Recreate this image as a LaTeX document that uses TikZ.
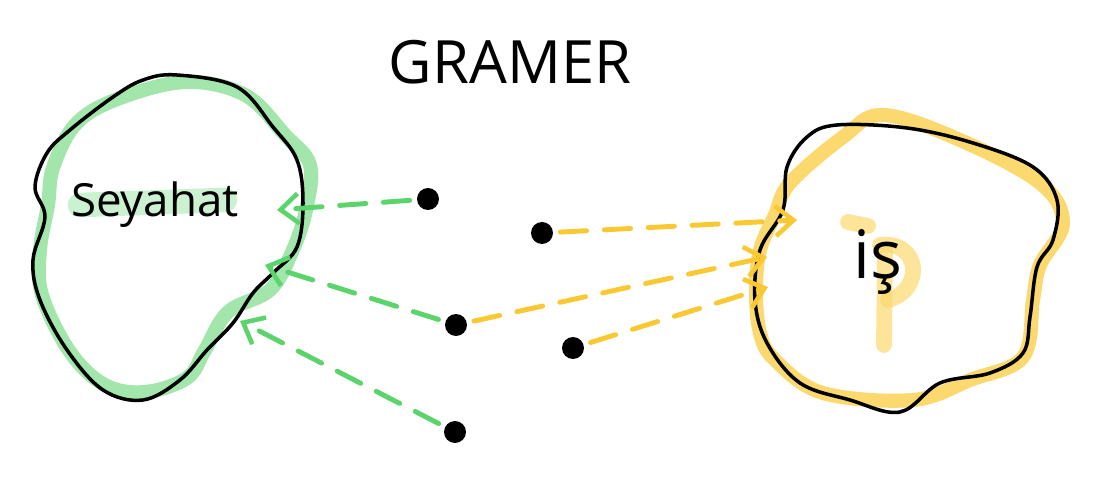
\documentclass[tikz,border=0pt]{standalone}
\usepackage{fontspec}
\setmainfont{Open Sans}
\usetikzlibrary{arrows.meta}
\definecolor{sgreen}{HTML}{5CD46C}
\definecolor{lgreen}{HTML}{A3E6AC}
\definecolor{syellow}{HTML}{F9C832}
\definecolor{lyellow}{HTML}{FBD96E}

\begin{document}
\begin{tikzpicture}[x=0.02cm, y=-0.02cm,
  dot/.style={circle, fill=black, minimum size=0.44cm, inner sep=0pt},
  outline/.style={black, line width=2pt, line join=round},
  smudge/.style={line width=8pt, line cap=round, line join=round},
  arr/.style={-{Straight Barb[length=3.6mm, width=6mm, line width=2.6pt]}, line width=2.8pt, dash pattern=on 15pt off 10pt, line cap=round, shorten <=4pt},
  lbl/.style={font=\fontsize{26}{28}\selectfont}]
\useasboundingbox (0,0) rectangle (1100,479);
% left blob
\draw[smudge, lgreen] plot[smooth cycle, tension=0.6] coordinates {(185,82) (245,95) (285,135) (310,165) (306,210) (292,252) (270,290) (228,312) (205,350) (187,378) (145,392) (105,385) (70,352) (42,295) (40,250) (48,205) (53,168) (75,125) (115,100)};
\draw[outline] plot[smooth cycle, tension=0.6] coordinates {(177,75) (237,87) (273,127) (297,160) (303,203) (297,247) (273,273) (253,293) (233,323) (207,350) (180,380) (143,400) (103,390) (67,350) (40,300) (33,260) (45,217) (35,187) (47,153) (70,130) (113,97) (143,80)};
\draw[smudge, lgreen, line width=14pt, opacity=0.55] (80,205) -- (225,200);
% right blob
\draw[smudge, lyellow] plot[smooth cycle, tension=0.6] coordinates {(883,115) (960,140) (1040,183) (1063,223) (1040,265) (1033,300) (1023,357) (970,380) (913,400) (823,393) (775,360) (760,333) (756,290) (760,250) (775,215) (790,183) (843,137)};
\draw[outline] plot[smooth cycle, tension=0.6] coordinates {(837,125) (907,128) (973,143) (1033,167) (1057,200) (1053,240) (1037,267) (1030,317) (1023,353) (990,373) (940,383) (900,412) (850,400) (800,383) (767,343) (755,300) (760,250) (783,210) (787,167) (807,137)};
\draw[smudge, lyellow, line width=9pt, opacity=0.7] (848,222) -- (868,226);
\draw[smudge, lyellow, line width=9pt, opacity=0.7] (885,250) -- (884,345);
\draw[smudge, lyellow, line width=9pt, opacity=0.7] (880,245) .. controls (920,240) and (925,290) .. (888,300);
% labels
\node[font=\fontsize{34}{36}\selectfont] (title) at (510,62) {GRAMER};
\node[lbl] (sey) at (155,205) {Seyahat};
\node[font=\fontsize{38}{40}\selectfont] (is) at (878,262) {iş};
% points
\node[dot] (d1) at (428,199) {};
\node[dot] (d2) at (542,233) {};
\node[dot] (d3) at (456,325) {};
\node[dot] (d4) at (573,348) {};
\node[dot] (d5) at (455,432) {};
\coordinate (sey1) at (277,210);
\coordinate (sey2) at (265,265);
\coordinate (sey3) at (240,321);
\coordinate (is1) at (797,220);
\coordinate (is2) at (767,257);
\coordinate (is3) at (768,287);
% arrows
\draw[arr, sgreen] (d1) -- (sey1);
\draw[arr, sgreen] (d3) -- (sey2);
\draw[arr, sgreen] (d5) -- (sey3);
\draw[arr, syellow] (d2) -- (is1);
\draw[arr, syellow] (d3) -- (is2);
\draw[arr, syellow] (d4) -- (is3);
\end{tikzpicture}
\end{document}
